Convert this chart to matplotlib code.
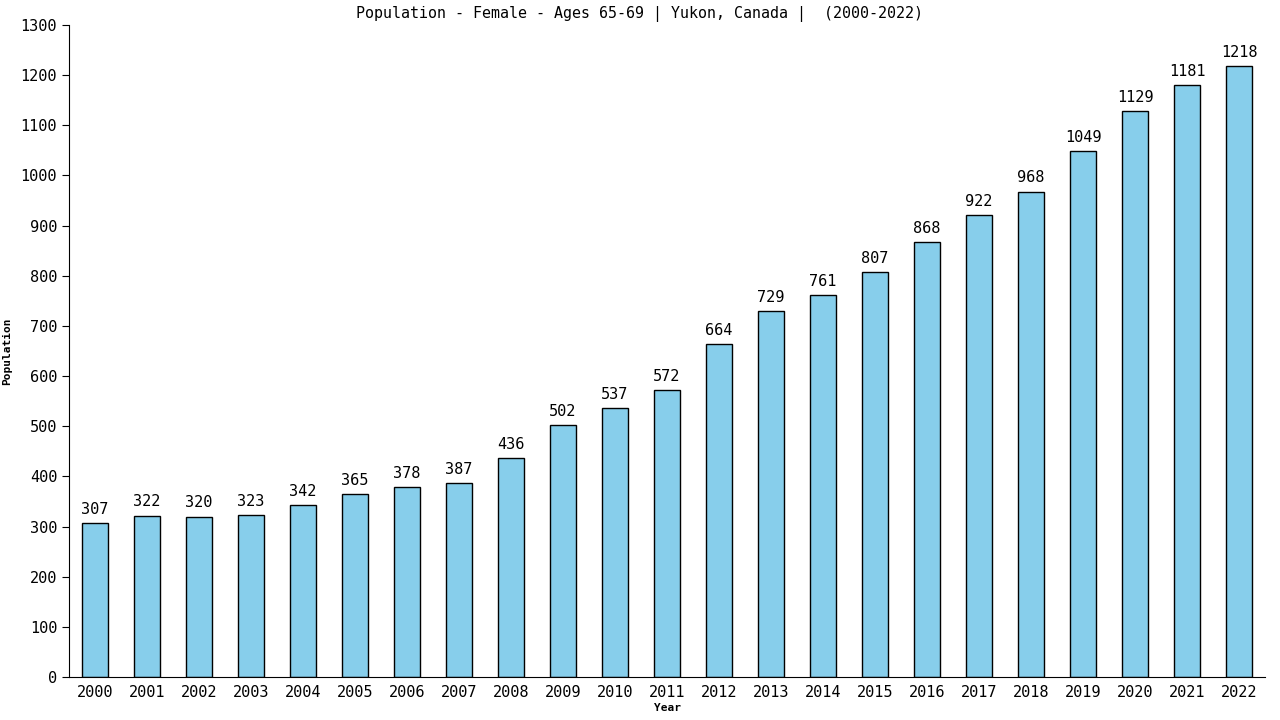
import matplotlib
matplotlib.use("Agg")
import matplotlib.pyplot as plt

years = list(range(2000, 2023))
population = [307, 322, 320, 323, 342, 365, 378, 387, 436, 502, 537, 572,
              664, 729, 761, 807, 868, 922, 968, 1049, 1129, 1181, 1218]

plt.rcParams["font.family"] = "DejaVu Sans Mono"

fig = plt.figure(figsize=(12.8, 7.2), dpi=100)
ax = fig.add_axes([0.0539, 0.0597, 0.9344, 0.9056])

x = list(range(len(years)))
bars = ax.bar(x, population, width=0.5, color="#87CEEB", edgecolor="black", linewidth=1)
for xi, v in zip(x, population):
    ax.text(xi, v + 12, str(v), ha="center", va="bottom", fontsize=11)

ax.set_xlim(-0.5, len(years) - 0.5)
ax.set_ylim(0, 1300)
ax.set_yticks(range(0, 1301, 100))
ax.set_xticks(x)
ax.set_xticklabels([str(y) for y in years], fontsize=11)
ax.tick_params(axis="y", labelsize=11, length=5, direction="out")
ax.tick_params(axis="x", length=0, pad=6)
ax.spines["top"].set_visible(False)
ax.spines["right"].set_visible(False)

fig.text(0.5, 0.992, "Population - Female - Ages 65-69 | Yukon, Canada |  (2000-2022)",
         ha="center", va="top", fontsize=10.8)
ax.set_xlabel("Year", fontsize=8, fontweight="bold", labelpad=2)
ax.set_ylabel("Population", fontsize=8, fontweight="bold", labelpad=6)

fig.savefig("out.png", dpi=100)
plt.close(fig)
